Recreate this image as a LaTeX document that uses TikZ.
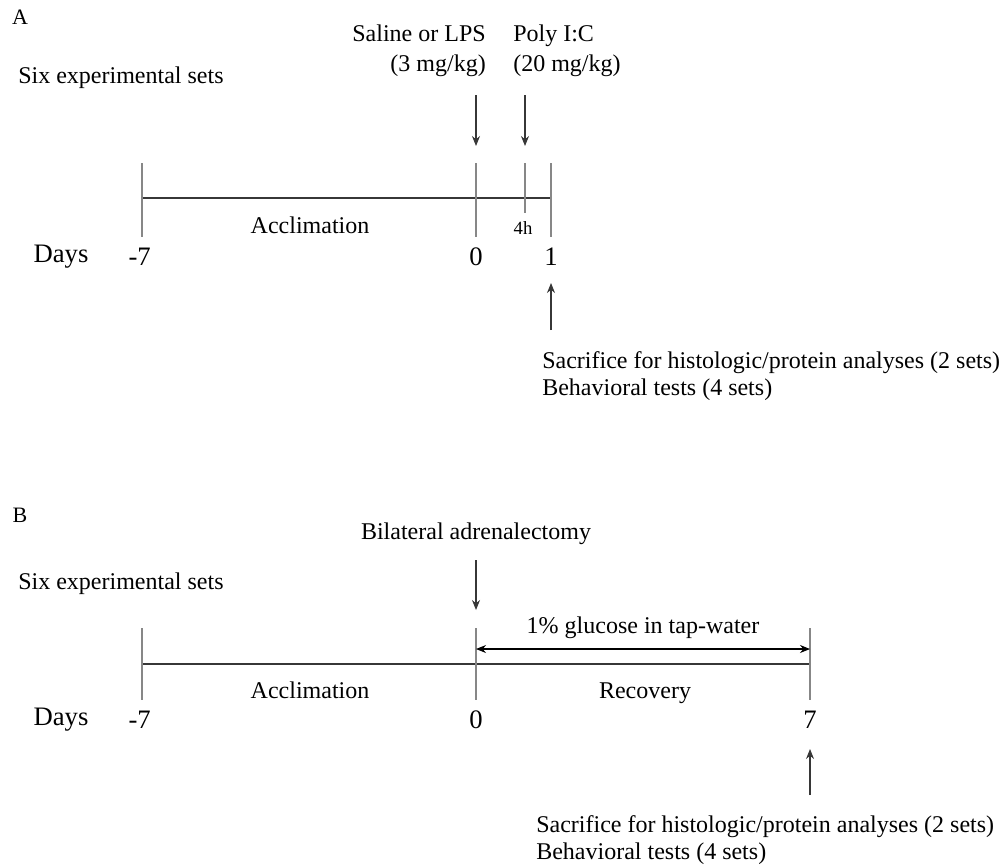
\documentclass[tikz,border=0pt]{standalone}
\usepackage{fontspec}
\setmainfont{Liberation Serif}
\usetikzlibrary{calc,arrows.meta}

\begin{document}
\begin{tikzpicture}[x=0.75pt,y=-0.75pt]


\def\lineWidth{0.8}
\def\tickUp{35}
\def\tickDown{39}
\definecolor{tickgray}{RGB}{135,135,135}
\definecolor{linegray}{RGB}{55,55,55}
\tikzset{
  lbl/.style={inner sep=0pt, font=\fontsize{18}{22.5}\selectfont},
  daylbl/.style={inner sep=0pt, font=\fontsize{20}{24}\selectfont},
  panellbl/.style={inner sep=0pt, font=\fontsize{16.5}{18}\selectfont},
  smalllbl/.style={inner sep=0pt, font=\fontsize{14}{16}\selectfont},
  tickline/.style={draw=tickgray, line width=\lineWidth pt},
  axisline/.style={draw=linegray, line width=\lineWidth pt},
  event/.style={draw=linegray, line width=\lineWidth pt, -{Stealth[length=7.5pt, width=6pt]}},
}

\useasboundingbox (0,0) rectangle (1005,865);

% panel A
\coordinate (a-start) at (142,198);
\coordinate (a-zero) at (476,198);
\coordinate (a-4h) at (525,198);
\coordinate (a-end) at (551,198);

\coordinate (lps-top) at ($(a-zero) + (0,-103)$);
\coordinate (lps-tip) at ($(a-zero) + (0,-52)$);
\coordinate (pic-top) at ($(a-4h) + (0,-103)$);
\coordinate (pic-tip) at ($(a-4h) + (0,-52)$);
\coordinate (a-sac-tip) at ($(a-end) + (0,85)$);
\coordinate (a-sac-foot) at ($(a-end) + (0,132)$);

% panel B
\coordinate (b-start) at (142,664);
\coordinate (b-zero) at (476,664);
\coordinate (b-end) at (810,664);

\coordinate (adx-top) at ($(b-zero) + (0,-104)$);
\coordinate (adx-tip) at ($(b-zero) + (0,-54)$);
\coordinate (glc-left) at ($(b-zero) + (0,-15)$);
\coordinate (glc-right) at ($(b-end) + (0,-15)$);
\coordinate (b-sac-tip) at ($(b-end) + (0,85)$);
\coordinate (b-sac-foot) at ($(b-end) + (0,131)$);


%DRAW

% panel A
\node[panellbl] (a-title) at (20,17) {A};
\node[lbl, anchor=west] (a-sets) at (18,78) {Six experimental sets};
\node[lbl, anchor=east, align=right] (lps) at (486,51) {Saline or LPS\\(3 mg/kg)};
\node[lbl, anchor=west, align=left] (pic) at (513,51) {Poly I:C\\(20 mg/kg)};

\draw[axisline] (a-start) -- (a-end);
\foreach \p in {a-start, a-zero, a-end}
  \draw[tickline] ($(\p) + (0,-\tickUp)$) -- ($(\p) + (0,\tickDown)$);
\draw[tickline] ($(a-4h) + (0,-\tickUp)$) -- ($(a-4h) + (0,15)$);

\draw[event] (lps-top) -- (lps-tip);
\draw[event] (pic-top) -- (pic-tip);

\node[lbl] (a-accl) at (310,225) {Acclimation};
\node[smalllbl] (a-4h-lbl) at (523,228) {4h};
\node[daylbl] (a-days) at (61,257) {Days};
\node[daylbl, anchor=east] (a-m7) at (151,257) {-7};
\node[daylbl] (a-d0) at (476,257) {0};
\node[daylbl] (a-d1) at (551,257) {1};

\draw[event] (a-sac-foot) -- (a-sac-tip);
\node[lbl, anchor=west, align=left, font=\fontsize{18}{20.5}\selectfont] (a-sac) at (542,376)
  {Sacrifice for histologic/protein analyses (2 sets)\\Behavioral tests (4 sets)};

% panel B
\node[panellbl] (b-title) at (20,515) {B};
\node[lbl] (adx) at (476,534) {Bilateral adrenalectomy};
\node[lbl, anchor=west] (b-sets) at (18,584) {Six experimental sets};

\draw[axisline] (b-start) -- (b-end);
\foreach \p in {b-start, b-zero, b-end}
  \draw[tickline] ($(\p) + (0,-\tickUp-1)$) -- ($(\p) + (0,36)$);

\draw[event] (adx-top) -- (adx-tip);
\draw[draw=black, line width=\lineWidth pt, {Stealth[length=7.5pt, width=6pt]}-{Stealth[length=7.5pt, width=6pt]}]
  (glc-left) -- (glc-right);
\node[lbl] (glc) at (643,628) {1\% glucose in tap-water};

\node[lbl, anchor=base] (b-accl) at (310,698) {Acclimation};
\node[lbl, anchor=base] (b-recov) at (645,698) {Recovery};
\node[daylbl] (b-days) at (61,720) {Days};
\node[daylbl, anchor=east] (b-m7) at (151,720) {-7};
\node[daylbl] (b-d0) at (476,720) {0};
\node[daylbl] (b-d7) at (810,720) {7};

\draw[event] (b-sac-foot) -- (b-sac-tip);
\node[lbl, anchor=west, align=left, font=\fontsize{18}{20.5}\selectfont] (b-sac) at (536,840)
  {Sacrifice for histologic/protein analyses (2 sets)\\Behavioral tests (4 sets)};


\end{tikzpicture}
\end{document}
